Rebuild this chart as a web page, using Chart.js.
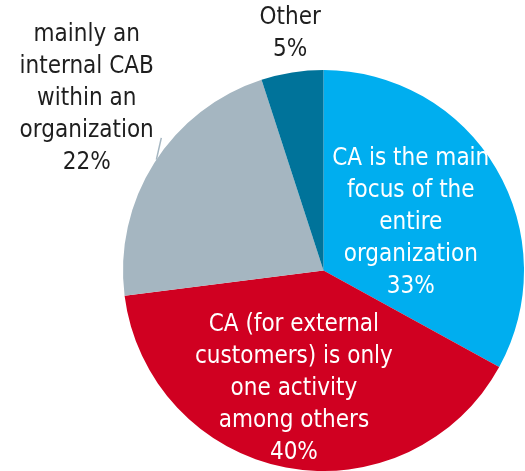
<!DOCTYPE html>
<html>
<head>
<meta charset="utf-8">
<script src="https://cdn.jsdelivr.net/npm/chart.js@4/dist/chart.umd.min.js"></script>
<style>
  html, body { margin: 0; padding: 0; background: #fff; }
  #wrap { width: 525px; height: 471px; }
</style>
</head>
<body>
<div id="wrap"><canvas id="grafico" width="525" height="471"></canvas></div>
<script>
// dados do grafico
const categorias = [
    ['CA is the main', 'focus of the', 'entire', 'organization'],
    ['CA (for external', 'customers) is only', 'one activity', 'among others'],
    ['mainly an', 'internal CAB', 'within an', 'organization'],
    ['Other']
];
const valores = [33, 40, 22, 5];
const cores = ['#00aeef', '#d00021', '#a5b6c1', '#00739a'];

// onde cada rotulo fica (fator do raio, desvio do angulo) e cor do texto
const raioRotulo = [0.495, 0.61, 1.46, 1.19];
const desvioAngulo = [0.038, 0.056, 0.063, 0.017];
const corTexto = ['#ffffff', '#ffffff', '#1e1e1e', '#1e1e1e'];
const fonte = '24px "Liberation Sans Narrow", "DejaVu Sans Condensed", sans-serif';

const rotulos = {
    id: 'rotulos',
    afterDatasetsDraw(chart) {
        const ctx = chart.ctx;
        const meta = chart.getDatasetMeta(0);
        ctx.save();
        ctx.font = fonte;
        ctx.textAlign = 'center';
        ctx.textBaseline = 'middle';
        meta.data.forEach((arc, i) => {
            const meio = (arc.startAngle + arc.endAngle) / 2 + desvioAngulo[i];
            const r = arc.outerRadius * raioRotulo[i];
            const x = arc.x + Math.cos(meio) * r;
            const y = arc.y + Math.sin(meio) * r;
            const linhas = categorias[i].concat(valores[i] + '%');
            const alt = 32;
            const y0 = y - (linhas.length - 1) * alt / 2;
            ctx.fillStyle = corTexto[i];
            linhas.forEach((t, k) => ctx.fillText(t, x, y0 + k * alt));
        });

        // pequena linha guia da fatia cinza
        const a = meta.data[2];
        const a1 = (a.startAngle + a.endAngle) / 2 + 0.02;
        const a2 = a1 + 0.1;
        ctx.strokeStyle = cores[2];
        ctx.lineWidth = 1.5;
        ctx.beginPath();
        ctx.moveTo(a.x + Math.cos(a1) * a.outerRadius, a.y + Math.sin(a1) * a.outerRadius);
        ctx.lineTo(a.x + Math.cos(a2) * a.outerRadius * 1.045, a.y + Math.sin(a2) * a.outerRadius * 1.045);
        ctx.stroke();
        ctx.restore();
    }
};

const ctx = document.getElementById('grafico').getContext('2d');
window.grafico = new Chart(ctx, {
    type: 'pie',
    data: {
        labels: categorias.map(c => c.join(' ')),
        datasets: [{
            data: valores,
            backgroundColor: cores,
            borderWidth: 0
        }]
    },
    options: {
        responsive: false,
        animation: false,
        layout: { padding: { top: 70, bottom: 0, left: 122, right: 0 } },
        plugins: {
            legend: { display: false },
            tooltip: { enabled: false }
        }
    },
    plugins: [rotulos]
});
</script>
</body>
</html>
